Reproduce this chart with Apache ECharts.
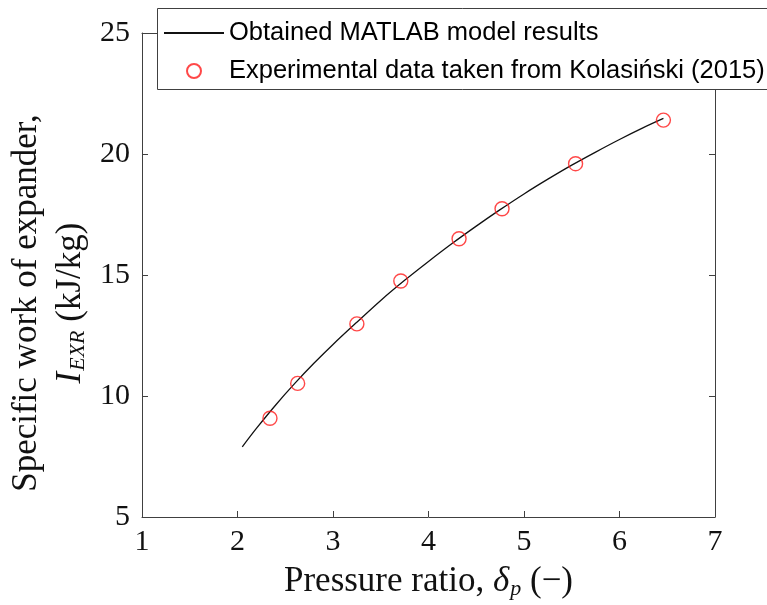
<!DOCTYPE html>
<html>
<head>
<meta charset="utf-8">
<script src="https://cdn.jsdelivr.net/npm/echarts@6/dist/echarts.min.js"></script>
<style>
  html, body { margin: 0; padding: 0; background: #fff; }
  #chart { width: 767px; height: 605px; }
</style>
</head>
<body>
<div id="chart"></div>
<script>
// Model curve
const modelX = [2.05, 2.2, 2.4, 2.6, 2.8, 3.0, 3.25, 3.5, 3.75, 4.0, 4.25, 4.5, 4.75, 5.0, 5.25, 5.5, 5.75, 6.0, 6.25, 6.46];
const modelY = [7.9, 8.67, 9.63, 10.52, 11.35, 12.13, 13.05, 13.95, 14.78, 15.56, 16.31, 17.02, 17.7, 18.35, 18.96, 19.54, 20.08, 20.6, 21.09, 21.47];

// Experimental points, Kolasiński (2015)
const expX = [2.34, 2.63, 3.25, 3.71, 4.32, 4.77, 5.54, 6.46];
const expY = [9.08, 10.52, 12.98, 14.75, 16.5, 17.74, 19.6, 21.4];

const xTicks = [1, 7, 1];   // min, max, interval
const yTicks = [5, 25, 5];

const AXIS = '#404040';
const SERIF = '"Liberation Serif", "Times New Roman", serif';
const SANS = '"Liberation Sans", Arial, sans-serif';

const zip = (a, b) => a.map((v, i) => [v, b[i]]);

const axisCommon = {
  axisLine: { show: true, onZero: false, lineStyle: { color: AXIS, width: 1 } },
  axisTick: { show: true, inside: true, length: 6, lineStyle: { color: AXIS, width: 1 } },
  splitLine: { show: false }
};

const chart = echarts.init(document.getElementById('chart'), null, { renderer: 'canvas' });

chart.setOption({
  animation: false,
  backgroundColor: '#fff',
  grid: { left: 142, right: 52, top: 33, bottom: 88, containLabel: false },
  // legend frame runs off the right edge, as in the original figure
  graphic: [{
    type: 'rect', z: 3,
    shape: { x: 157.5, y: 8.5, width: 700, height: 81 },
    style: { fill: '#fff', stroke: AXIS, lineWidth: 1 }
  }],
  legend: {
    orient: 'vertical',
    left: 157,
    top: 8,
    padding: [12, 4, 7, 6],
    itemWidth: 60,
    itemHeight: 14,
    itemGap: 12,
    z: 4,
    textStyle: { fontFamily: SANS, fontSize: 25.5, color: '#000', lineHeight: 24 },
    data: [
      { name: 'Obtained MATLAB model results', itemStyle: { opacity: 0 } },
      { name: 'Experimental data taken from Kolasiński (2015)' }
    ]
  },
  xAxis: [
    Object.assign({
      type: 'value', position: 'bottom',
      min: xTicks[0], max: xTicks[1], interval: xTicks[2],
      name: '{t|Pressure ratio, }{m|δ}{s|p}{t| (−)}',
      nameLocation: 'middle', nameGap: 46,
      nameTextStyle: {
        rich: {
          t: { fontFamily: SERIF, fontSize: 35, color: '#111' },
          m: { fontFamily: SERIF, fontSize: 35, fontStyle: 'italic', color: '#111' },
          s: { fontFamily: SERIF, fontSize: 22, fontStyle: 'italic', color: '#111', padding: [15, 0, 0, 1] }
        }
      },
      axisLabel: { fontFamily: SERIF, fontSize: 30, color: '#111', margin: 10 }
    }, axisCommon),
    Object.assign({
      type: 'value', position: 'top',
      min: xTicks[0], max: xTicks[1], interval: xTicks[2],
      axisLabel: { show: false }
    }, axisCommon)
  ],
  yAxis: [
    Object.assign({
      type: 'value', position: 'left',
      min: yTicks[0], max: yTicks[1], interval: yTicks[2],
      name: '{t|Specific work of expander,}\n{m|I}{s|EXR}{t| (kJ/kg)}',
      nameLocation: 'middle', nameRotate: 90, nameGap: 46,
      nameTextStyle: {
        align: 'center',
        padding: [0, 56, 0, 0],
        rich: {
          t: { fontFamily: SERIF, fontSize: 35, color: '#111', lineHeight: 44 },
          m: { fontFamily: SERIF, fontSize: 35, fontStyle: 'italic', color: '#111', lineHeight: 44 },
          s: { fontFamily: SERIF, fontSize: 22, fontStyle: 'italic', color: '#111', lineHeight: 44, padding: [15, 0, 0, 1] }
        }
      },
      axisLabel: { fontFamily: SERIF, fontSize: 30, color: '#111', margin: 12 }
    }, axisCommon),
    Object.assign({
      type: 'value', position: 'right',
      min: yTicks[0], max: yTicks[1], interval: yTicks[2],
      axisLabel: { show: false }
    }, axisCommon)
  ],
  series: [
    {
      name: 'Obtained MATLAB model results',
      type: 'line',
      data: zip(modelX, modelY),
      smooth: 0.3,
      symbol: 'none',
      lineStyle: { color: '#111', width: 1.3 },
      itemStyle: { color: '#111' },
      z: 2
    },
    {
      name: 'Experimental data taken from Kolasiński (2015)',
      type: 'scatter',
      data: zip(expX, expY),
      symbol: 'circle',
      symbolSize: 14,
      itemStyle: { color: 'rgba(255,255,255,0)', borderColor: '#ff1a1a', borderWidth: 1.4 },
      z: 3
    }
  ]
});
</script>
</body>
</html>
